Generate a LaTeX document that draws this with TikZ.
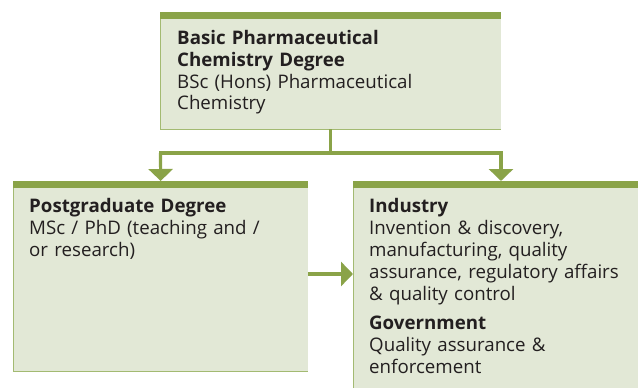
\documentclass[tikz,border=0pt]{standalone}
\usepackage{fontspec}
\setmainfont{Open Sans}
\usetikzlibrary{arrows.meta}
\definecolor{bar}{HTML}{8AA348}
\definecolor{boxfill}{HTML}{E2E8D6}
\definecolor{edge}{HTML}{A3BA72}
\definecolor{ink}{HTML}{231F20}
\tikzset{
  panel/.style={rectangle, fill=boxfill, inner sep=0pt, anchor=north west},
  label/.style={anchor=base west, inner sep=0pt, text=ink, text width=#1, align=left,
    font=\fontsize{18.7}{22}\selectfont},
  conn/.style={draw=bar, line width=3.2pt},
  tip/.style={-{Triangle[width=24pt,length=12pt]}},
  edgeline/.style={draw=edge, line width=1pt},
  barfill/.style={fill=bar}
}
\begin{document}
\begin{tikzpicture}[x=1pt,y=-1pt]
\useasboundingbox (0,0) rectangle (638,388);
% panels
\node[panel, minimum width=341pt, minimum height=117pt] (top) at (160,12) {};
\node[panel, minimum width=295pt, minimum height=190pt] (left) at (13,181) {};
\node[panel, minimum width=285pt, minimum height=207pt] (right) at (353,181) {};
% borders
\draw[edgeline] (top.north west) -- (top.south west) -- (top.south east);
\draw[edgeline] (left.north west) -- (left.south west) -- (left.south east);
\draw[edgeline] (right.north west) -- (right.south west);
% top bars
\fill[barfill] (top.north west) rectangle ([yshift=-7pt]top.north east);
\fill[barfill] (left.north west) rectangle ([yshift=-7pt]left.north east);
\fill[barfill] (right.north west) rectangle ([yshift=-7pt]right.north east);
% connectors
\coordinate (lc) at (160.5,153);
\coordinate (rc) at (501,153);
\coordinate (mid) at (330,274);
\draw[conn] (top.south) -- (top.south |- lc);
\draw[conn, line cap=rect] (lc) -- (rc);
\draw[conn, tip] (lc) -- (left.north);
\draw[conn, tip] (rc) -- (rc |- right.north);
\draw[conn, tip] (left.east |- mid) -- (right.west |- mid);
% texts
\node[label=300pt] (toptext) at (177,44)
  {\textbf{Basic Pharmaceutical}\\\textbf{Chemistry Degree}\\BSc (Hons) Pharmaceutical\\Chemistry};
\node[label=270pt] (lefttext) at (29,212)
  {\textbf{Postgraduate Degree}\\MSc / PhD (teaching and /\\or research)};
\node[label=270pt] (righttext) at (369,212)
  {\textbf{Industry}\\Invention \& discovery,\\manufacturing, quality\\assurance, regulatory affairs\\\& quality control\\[7pt]\textbf{Government}\\Quality assurance \&\\enforcement};
\end{tikzpicture}
\end{document}
